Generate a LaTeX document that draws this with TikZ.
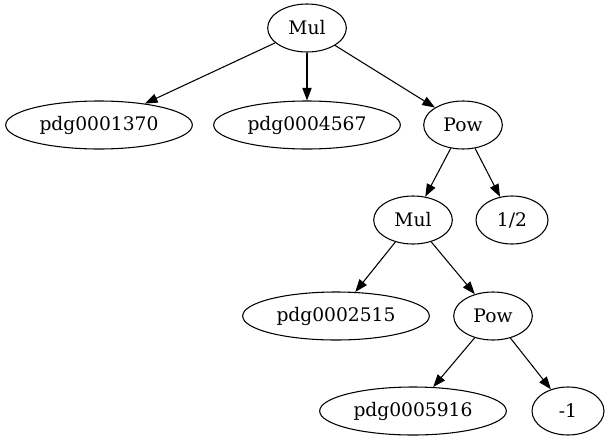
\documentclass[tikz,border=0pt]{standalone}
\usepackage{fontspec}
\setmainfont{DejaVu Serif}
\usepackage{tikz}
\usetikzlibrary{shapes.geometric, arrows.meta}

\begin{document}
\begin{tikzpicture}[x=0.75pt, y=-0.75pt,
        op/.style={ellipse, draw=black, fill=white, inner sep=0pt, minimum height=36pt, minimum width=59pt, font=\fontsize{14pt}{16pt}\selectfont},
        leaf/.style={op, minimum width=140pt},
        num/.style={op, minimum width=54pt},
        >={Triangle[length=9.5pt, width=7pt]}, line width=0.8pt]
            \useasboundingbox (0, 0) rectangle (610, 443);
            \node[op] (m0) at (307, 28) {Mul};
            \node[leaf] (p1370) at (99, 125) {pdg0001370};
            \node[leaf] (p4567) at (307, 125) {pdg0004567};
            \node[op] (w0) at (463, 125) {Pow};
            \node[op] (m1) at (413, 220) {Mul};
            \node[num] (half) at (512, 220) {1/2};
            \node[leaf] (p2515) at (336, 316) {pdg0002515};
            \node[op] (w1) at (493, 316) {Pow};
            \node[leaf] (p5916) at (413, 411) {pdg0005916};
            \node[num] (neg) at (568, 411) {-1};

            \draw[->] (m0) -- (p1370);
            \draw[->] (m0) -- (p4567);
            \draw[->] (m0) -- (w0);
            \draw[->] (w0) -- (m1);
            \draw[->] (w0) -- (half);
            \draw[->] (m1) -- (p2515);
            \draw[->] (m1) -- (w1);
            \draw[->] (w1) -- (p5916);
            \draw[->] (w1) -- (neg);
        \end{tikzpicture}
\end{document}
